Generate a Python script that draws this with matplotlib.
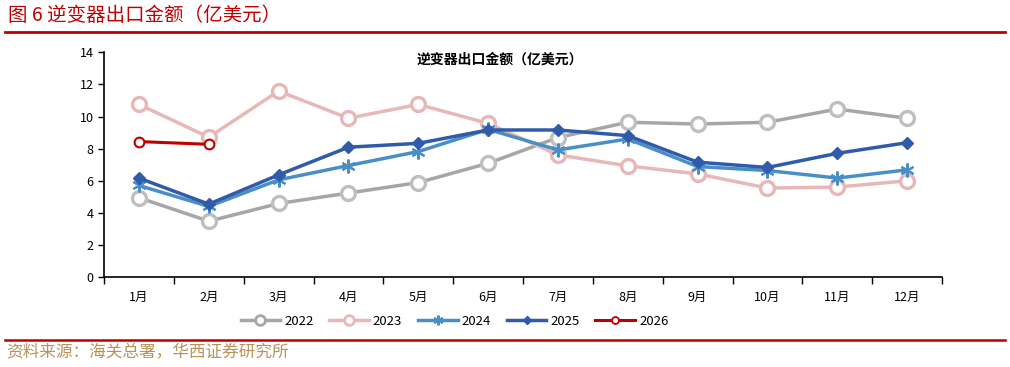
import matplotlib
matplotlib.use("Agg")
import matplotlib.pyplot as plt
from matplotlib.lines import Line2D
import numpy as np

plt.rcParams['font.family'] = ['Noto Sans CJK SC', 'DejaVu Sans']

months = ['1月', '2月', '3月', '4月', '5月', '6月', '7月', '8月', '9月', '10月', '11月', '12月']
y2022 = [4.96, 3.5, 4.6, 5.25, 5.9, 7.1, 8.7, 9.65, 9.54, 9.65, 10.47, 9.9]
y2023 = [10.76, 8.72, 11.59, 9.9, 10.76, 9.58, 7.62, 6.94, 6.44, 5.56, 5.62, 6.01]
y2024 = [5.72, 4.42, 6.07, 6.96, 7.83, 9.21, 7.93, 8.61, 6.9, 6.65, 6.18, 6.69]
y2025 = [6.18, 4.56, 6.38, 8.1, 8.34, 9.17, 9.17, 8.82, 7.17, 6.84, 7.72, 8.38]
y2026 = [8.45, 8.28]

fig = plt.figure(figsize=(10.1, 3.67), dpi=100)
ax = fig.add_axes([0.103, 0.2439, 0.8297, 0.6136])

x = np.arange(len(months))
ax.plot(x, y2022, color='#A6A6A6', lw=2.5, marker='o', ms=10, mfc='white',
        mec='#BFBFBF', mew=2.4, label='2022', zorder=2)
ax.plot(x, y2023, color='#E6B8B7', lw=2.5, marker='o', ms=10, mfc='white',
        mec='#E6B8B7', mew=2.4, label='2023', zorder=2)
ax.plot(x, y2024, color='#4A8EC6', lw=2.5, marker=(6, 2, 0), ms=10,
        mec='#4A8EC6', mew=1.5, label='2024', zorder=3)
ax.plot(x, y2025, color='#2F5BAA', lw=2.5, marker='D', ms=6,
        mfc='#2F5BAA', mec='#2F5BAA', label='2025', zorder=4)
ax.plot(np.arange(len(y2026)), y2026, color='#C00000', lw=2.2, marker='o', ms=7,
        mfc='white', mec='#C00000', mew=1.5, label='2026', zorder=5)

ax.set_xlim(-0.5, 11.5)
ax.set_ylim(0, 14)
ax.set_yticks(np.arange(0, 15, 2))
ax.set_xticks(x)
ax.set_xticklabels(months, fontsize=9)
ax.set_xticks(np.arange(-0.5, 12, 1), minor=True)
ax.tick_params(axis='x', which='major', length=0, pad=10)
ax.tick_params(axis='x', which='minor', length=5, direction='out', width=1)
ax.tick_params(axis='y', length=4, direction='out', width=1, labelsize=9)
for s in ['top', 'right']:
    ax.spines[s].set_visible(False)
for s in ['left', 'bottom']:
    ax.spines[s].set_linewidth(1.2)
    ax.spines[s].set_color('black')

fig.text(0.495, 0.838, '逆变器出口金额（亿美元）', ha='center', va='center',
         fontsize=10, fontweight='bold')

handles = [
    Line2D([], [], color='#A6A6A6', lw=2.5, marker='o', ms=7, mfc='white', mec='#A6A6A6', mew=2),
    Line2D([], [], color='#E6B8B7', lw=2.5, marker='o', ms=7, mfc='white', mec='#E6B8B7', mew=2),
    Line2D([], [], color='#4A8EC6', lw=2.5, marker=(6, 2, 0), ms=7, mec='#4A8EC6', mew=1.5),
    Line2D([], [], color='#2F5BAA', lw=2.5, marker='D', ms=4, mfc='#2F5BAA', mec='#2F5BAA'),
    Line2D([], [], color='#C00000', lw=2.2, marker='o', ms=5, mfc='white', mec='#C00000', mew=1.3),
]
fig.legend(handles, ['2022', '2023', '2024', '2025', '2026'], loc='center',
           bbox_to_anchor=(0.45, 0.125), ncol=5, frameon=False, fontsize=9.5,
           handlelength=3.0, columnspacing=1.2, handletextpad=0.3)

# header & footer
fig.text(0.008, 0.958, '图 6 逆变器出口金额（亿美元）', ha='left', va='center',
         fontsize=14, color='#C00000')
fig.add_artist(Line2D([0.005, 0.995], [0.914, 0.914], color='#C00000', lw=2,
                      transform=fig.transFigure))
fig.add_artist(Line2D([0.005, 0.995], [0.074, 0.074], color='#C00000', lw=1.8,
                      transform=fig.transFigure))
fig.text(0.006, 0.038, '资料来源：海关总署，华西证券研究所', ha='left', va='center',
         fontsize=12, color='#B8925A')

fig.savefig('out.png', dpi=100)
